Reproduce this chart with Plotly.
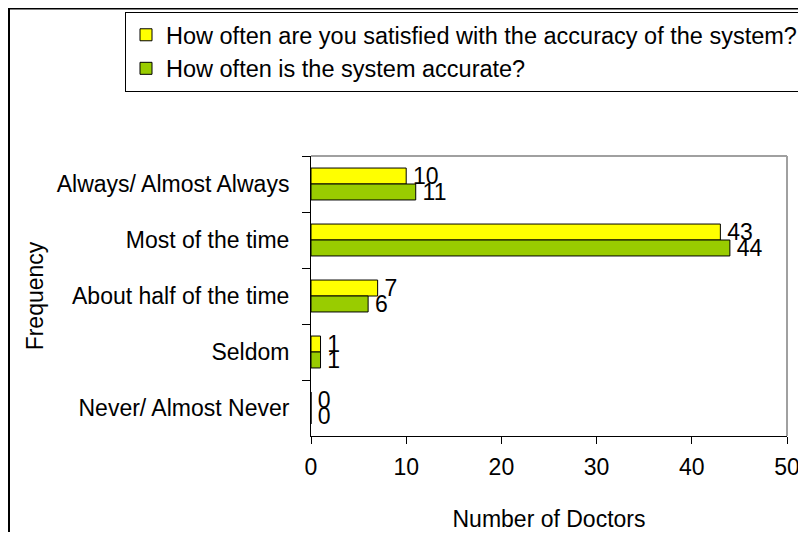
import plotly.graph_objects as go

categories = ["Always/ Almost Always", "Most of the time", "About half of the time", "Seldom", "Never/ Almost Never"]
satisfied = [10, 43, 7, 1, 0]
accurate = [11, 44, 6, 1, 0]
series_names = ["How often are you satisfied with the accuracy of the system?", "How often is the system accurate?"]
x_ticks = [0, 10, 20, 30, 40, 50]

FONT = "Liberation Sans, Arial, sans-serif"
FS = 23
fig = go.Figure()
for vals, name, color in [(satisfied, series_names[0], "#FFFF00"), (accurate, series_names[1], "#99CC00")]:
    fig.add_trace(go.Bar(
        y=categories, x=vals, name=name, orientation="h",
        marker=dict(color=color, line=dict(color="black", width=1)),
        text=vals, texttemplate="\u2006%{x}", textposition="outside",
        constraintext="none", cliponaxis=False,
        textfont=dict(family=FONT, size=FS, color="black"),
    ))

# page has an 8px body margin; work in page pixels and convert
OFF = 8
W, H = 806 - OFF, 540 - 2 * OFF
L = 311 - OFF
R = W - (787 - OFF)
T = 156 - OFF
B = H - (436 - OFF)
pw, ph = W - L - R, H - T - B

def px2x(p):
    return (p - OFF - L) / pw

def px2y(p):
    return (H - B - (p - OFF)) / ph

fig.update_layout(
    width=W, height=H, margin=dict(l=L, r=R, t=T, b=B, autoexpand=False),
    paper_bgcolor="white", plot_bgcolor="white",
    barmode="group", bargap=0.43, bargroupgap=0,
    font=dict(family=FONT, size=FS, color="black"),
    showlegend=True,
    legend=dict(x=px2x(125), y=px2y(12), xanchor="left", yanchor="top",
                bordercolor="black", borderwidth=1, bgcolor="white",
                traceorder="normal", itemwidth=30,
                font=dict(family=FONT, size=23.5, color="black"),
                tracegroupgap=0),
    xaxis=dict(range=[0, 50], tickvals=x_ticks, ticks="outside", ticklen=7,
               tickcolor="black", showline=True, linecolor="black", linewidth=1,
               showgrid=False, zeroline=False, ticklabelstandoff=3,
               tickfont=dict(family=FONT, size=FS),
               title=dict(text="Number of Doctors", font=dict(family=FONT, size=FS), standoff=33)),
    yaxis=dict(autorange="reversed", ticks="outside", ticklen=8, tickson="boundaries",
               tickcolor="black", showline=True, linecolor="black", linewidth=1,
               showgrid=False, zeroline=False, ticklabelstandoff=16,
               tickfont=dict(family=FONT, size=FS),
               title=dict(text="Frequency", font=dict(family=FONT, size=FS), standoff=6)),
)

# gray plot-area frame on top and right
fig.add_shape(type="line", xref="paper", yref="paper", x0=0, x1=1, y0=1, y1=1,
              line=dict(color="#A0A0A0", width=2))
fig.add_shape(type="line", xref="paper", yref="paper", x0=1, x1=1, y0=0, y1=1,
              line=dict(color="#A0A0A0", width=2))
# outer chart border (cropped at right/bottom)
fig.add_shape(type="rect", xref="paper", yref="paper",
              x0=px2x(9), x1=px2x(830), y0=px2y(8.5), y1=px2y(560),
              line=dict(color="black", width=2), layer="below")

fig.write_html("out.html")
